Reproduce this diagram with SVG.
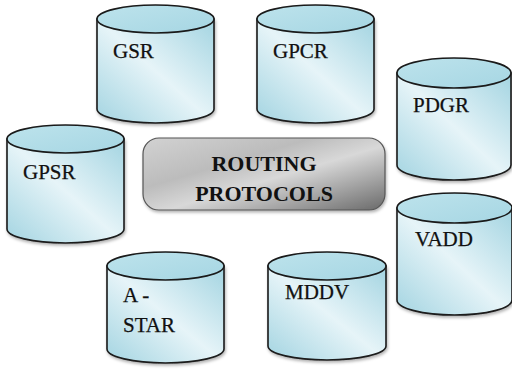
<svg xmlns="http://www.w3.org/2000/svg" width="512" height="369" viewBox="0 0 512 369">
<defs>
<linearGradient id="body" x1="0" y1="1" x2="1" y2="0">
<stop offset="0" stop-color="#a3d4e1"/>
<stop offset="0.5" stop-color="#e6f4f8"/>
<stop offset="1" stop-color="#a3d4e1"/>
</linearGradient>
<linearGradient id="top" x1="0" y1="0" x2="1" y2="1">
<stop offset="0" stop-color="#bde3ec"/>
<stop offset="1" stop-color="#a6d6e3"/>
</linearGradient>
<linearGradient id="box" x1="0" y1="0" x2="1" y2="1">
<stop offset="0" stop-color="#d2d2d2"/>
<stop offset="0.35" stop-color="#bcbcbc"/>
<stop offset="0.55" stop-color="#d8d8d8"/>
<stop offset="1" stop-color="#6a6a6a"/>
</linearGradient>
<filter id="sh" x="-10%" y="-10%" width="130%" height="130%">
<feDropShadow dx="1" dy="2" stdDeviation="1.5" flood-color="#000" flood-opacity="0.3"/>
</filter>
</defs>
<style>
.body{fill:url(#body);stroke:#1a1a1a;stroke-width:1.6;filter:url(#sh)}
.top{fill:url(#top);stroke:#1a1a1a;stroke-width:1.6}
text{font-family:"Liberation Serif","Times New Roman",serif}
.lbl{font-size:21px;fill:#111;stroke:#111;stroke-width:0.25}
.title{font-size:22px;font-weight:bold;fill:#111;text-anchor:middle}
</style>
<g id="connectors"></g>
<g id="routing">
<rect x="143" y="138" width="242" height="72" rx="16" ry="16" fill="url(#box)" stroke="#555" stroke-width="1.2" filter="url(#sh)"/>
<text class="title" x="264" y="171">ROUTING</text>
<text class="title" x="264" y="201">PROTOCOLS</text>
</g>
<g id="gsr">
<path class="body" d="M97 19 V109 A58.5 14 0 0 0 214 109 V19 Z"/>
<ellipse class="top" cx="155.5" cy="19" rx="58.5" ry="14"/>
<text class="lbl" x="113" y="58">GSR</text>
</g>
<g id="gpcr">
<path class="body" d="M257 19 V109 A58.5 14 0 0 0 374 109 V19 Z"/>
<ellipse class="top" cx="315.5" cy="19" rx="58.5" ry="14"/>
<text class="lbl" x="273" y="58">GPCR</text>
</g>
<g id="pdgr">
<path class="body" d="M397 73 V165 A57 15 0 0 0 511 165 V73 Z"/>
<ellipse class="top" cx="454" cy="73" rx="57" ry="15"/>
<text class="lbl" x="413" y="112">PDGR</text>
</g>
<g id="gpsr">
<path class="body" d="M7 139 V229 A58.5 14 0 0 0 124 229 V139 Z"/>
<ellipse class="top" cx="65.5" cy="139" rx="58.5" ry="14"/>
<text class="lbl" x="23" y="179">GPSR</text>
</g>
<g id="astar">
<path class="body" d="M107 266 V349 A58.5 14 0 0 0 224 349 V266 Z"/>
<ellipse class="top" cx="165.5" cy="266" rx="58.5" ry="14"/>
<text class="lbl" x="123" y="302">A -</text>
<text class="lbl" x="123" y="332">STAR</text>
</g>
<g id="mddv">
<path class="body" d="M268 266 V346 A59 14 0 0 0 386 346 V266 Z"/>
<ellipse class="top" cx="327" cy="266" rx="59" ry="14"/>
<text class="lbl" x="285" y="299">MDDV</text>
</g>
<g id="vadd">
<path class="body" d="M397 208 V300 A57.5 15 0 0 0 512 300 V208 Z"/>
<ellipse class="top" cx="454.5" cy="208" rx="57.5" ry="15"/>
<text class="lbl" x="415" y="246">VADD</text>
</g>
</svg>
